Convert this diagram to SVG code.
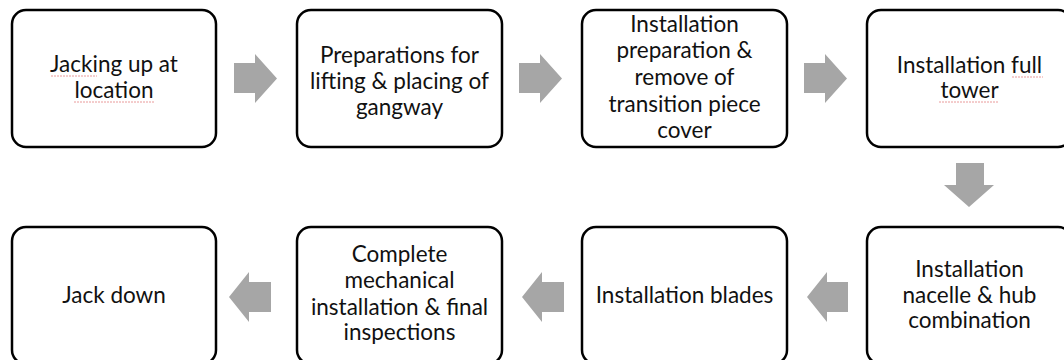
<svg xmlns="http://www.w3.org/2000/svg" width="1064" height="360" viewBox="0 0 1064 360">
<style>
.box{fill:#fff;stroke:#000;stroke-width:2.5}
.t{font-family:Lato,"Liberation Sans",sans-serif;font-size:22.5px;fill:#111;text-anchor:middle}
.arr{fill:#a6a6a6}
.sp{stroke:#e07070;stroke-width:1;fill:none;opacity:0.7;stroke-dasharray:2 1}
</style>
<rect width="1064" height="360" fill="#fff"/>
<g id="n1"><rect class="box" x="12" y="10" width="204" height="137" rx="14"/>
<text class="t" x="114" y="72">Jacking up at</text><text class="t" x="114" y="98">location</text>
<path class="sp" d="M51 76H97M74 102H154"/></g>
<g id="n2"><rect class="box" x="297" y="10" width="205" height="137" rx="14"/>
<text class="t" x="399.5" y="63">Preparations for</text><text class="t" x="399.5" y="89">lifting &amp; placing of</text><text class="t" x="399.5" y="115">gangway</text></g>
<g id="n3"><rect class="box" x="582" y="10" width="205" height="137" rx="14"/>
<text class="t" x="684.5" y="32">Installation</text><text class="t" x="684.5" y="58">preparation &amp;</text><text class="t" x="684.5" y="85">remove of</text><text class="t" x="684.5" y="112">transition piece</text><text class="t" x="684.5" y="138">cover</text></g>
<g id="n4"><rect class="box" x="867" y="10" width="205" height="137" rx="14"/>
<text class="t" x="969.5" y="73">Installation full</text><text class="t" x="969.5" y="98">tower</text>
<path class="sp" d="M1012 77H1043M939 102H998"/></g>
<g id="n5"><rect class="box" x="867" y="227" width="205" height="137" rx="14"/>
<text class="t" x="969.5" y="277">Installation</text><text class="t" x="969.5" y="303">nacelle &amp; hub</text><text class="t" x="969.5" y="328">combination</text></g>
<g id="n6"><rect class="box" x="582" y="227" width="205" height="137" rx="14"/>
<text class="t" x="684.5" y="303">Installation blades</text></g>
<g id="n7"><rect class="box" x="297" y="227" width="205" height="137" rx="14"/>
<text class="t" x="399.5" y="262">Complete</text><text class="t" x="399.5" y="288">mechanical</text><text class="t" x="399.5" y="315">installation &amp; final</text><text class="t" x="399.5" y="340">inspections</text></g>
<g id="n8"><rect class="box" x="12" y="227" width="204" height="137" rx="14"/>
<text class="t" x="114" y="303">Jack down</text></g>
<g id="connectors">
<polygon class="arr" points="234,63 255,63 255,54 277,78.5 255,103 255,93 234,93"/>
<polygon class="arr" points="519,63 540,63 540,54 562,78.5 540,103 540,93 519,93"/>
<polygon class="arr" points="804,63 825,63 825,54 847,78.5 825,103 825,93 804,93"/>
<polygon class="arr" points="956,163 984,163 984,185 994,185 969,207 944,185 956,185"/>
<polygon class="arr" points="848,282 827,282 827,272 807,297 827,322 827,312 848,312"/>
<polygon class="arr" points="564,282 542,282 542,272 522,297 542,322 542,312 564,312"/>
<polygon class="arr" points="271,282 249,282 249,272 229,297 249,322 249,312 271,312"/>
</g>
</svg>
